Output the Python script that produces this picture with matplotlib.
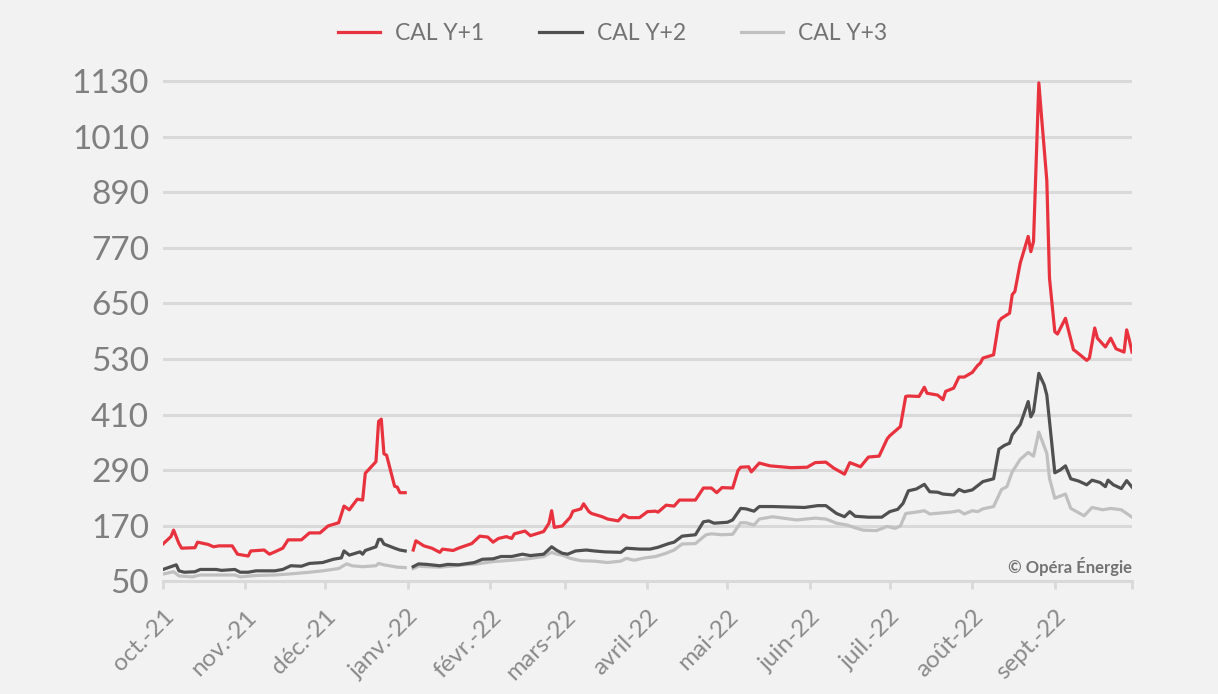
import matplotlib.pyplot as plt
import pandas as pd

plt.rcParams['font.family'] = ['Lato', 'DejaVu Sans']

# CAL Y+1 (CAL-22 until end of Dec, then CAL-23)
red1_dates = ['2021-10-01','2021-10-04','2021-10-05','2021-10-07','2021-10-08','2021-10-13','2021-10-14',
              '2021-10-18','2021-10-20','2021-10-22','2021-10-27','2021-10-29','2021-11-02','2021-11-03',
              '2021-11-08','2021-11-10','2021-11-12','2021-11-15','2021-11-17','2021-11-22','2021-11-25',
              '2021-11-29','2021-12-02','2021-12-06','2021-12-08','2021-12-10','2021-12-13','2021-12-15',
              '2021-12-16','2021-12-20','2021-12-21','2021-12-22','2021-12-23','2021-12-24','2021-12-27',
              '2021-12-28','2021-12-29','2021-12-31']
red1_vals = [130,146,160,131,121,122,134,129,124,126,126,108,104,115,117,108,113,121,139,139,154,154,
             169,176,212,204,227,225,283,308,395,400,325,322,255,253,241,241]

red2_dates = ['2022-01-03','2022-01-04','2022-01-07','2022-01-10','2022-01-13','2022-01-14','2022-01-18',
              '2022-01-20','2022-01-25','2022-01-28','2022-01-31','2022-02-02','2022-02-04','2022-02-07',
              '2022-02-09','2022-02-10','2022-02-14','2022-02-16','2022-02-21','2022-02-23','2022-02-24',
              '2022-02-25','2022-02-28','2022-03-03','2022-03-04','2022-03-07','2022-03-08','2022-03-10',
              '2022-03-11','2022-03-15','2022-03-17','2022-03-21','2022-03-23','2022-03-25','2022-03-29',
              '2022-04-01','2022-04-04','2022-04-05','2022-04-08','2022-04-11','2022-04-13','2022-04-19',
              '2022-04-22','2022-04-25','2022-04-27','2022-04-29','2022-05-03','2022-05-05','2022-05-06',
              '2022-05-09','2022-05-10','2022-05-13','2022-05-17','2022-05-25','2022-05-31','2022-06-03',
              '2022-06-07','2022-06-10','2022-06-14','2022-06-16','2022-06-20','2022-06-23','2022-06-27',
              '2022-06-30','2022-07-01','2022-07-05','2022-07-07','2022-07-08','2022-07-12','2022-07-14',
              '2022-07-15','2022-07-19','2022-07-21','2022-07-22','2022-07-25','2022-07-27','2022-07-29',
              '2022-08-01','2022-08-03','2022-08-04','2022-08-05','2022-08-09','2022-08-11','2022-08-12',
              '2022-08-15','2022-08-16','2022-08-17','2022-08-19','2022-08-22','2022-08-23','2022-08-24',
              '2022-08-26','2022-08-27','2022-08-29','2022-08-30','2022-09-01','2022-09-02','2022-09-05',
              '2022-09-08','2022-09-09','2022-09-13','2022-09-14','2022-09-16','2022-09-17','2022-09-20',
              '2022-09-22','2022-09-24','2022-09-27','2022-09-28','2022-09-29','2022-09-30']
red2_vals = [117,137,126,121,112,119,116,121,131,147,145,134,142,146,142,152,158,148,157,175,202,
             166,169,188,201,206,217,200,196,189,184,180,193,187,187,200,201,199,214,212,225,225,
             251,251,241,252,251,289,296,297,286,305,299,295,296,306,307,294,281,306,297,318,320,
             357,364,384,449,450,449,469,456,452,442,460,467,491,491,501,516,521,532,539,611,618,
             629,669,676,737,795,762,784,1127,1055,916,705,589,584,618,550,546,527,532,597,575,556,
             575,552,545,593,571,545]

# CAL Y+2
dark1_dates = ['2021-10-01','2021-10-05','2021-10-06','2021-10-07','2021-10-09','2021-10-13','2021-10-15',
               '2021-10-21','2021-10-23','2021-10-28','2021-10-30','2021-11-02','2021-11-05','2021-11-10',
               '2021-11-12','2021-11-15','2021-11-18','2021-11-22','2021-11-25','2021-11-30','2021-12-04',
               '2021-12-07','2021-12-08','2021-12-10','2021-12-14','2021-12-15','2021-12-16','2021-12-20',
               '2021-12-21','2021-12-22','2021-12-23','2021-12-27','2021-12-29','2021-12-31']
dark1_vals = [75,83,85,72,69,70,75,75,73,75,69,69,72,72,72,75,83,82,88,90,97,100,115,106,113,108,116,
              124,140,140,130,121,117,115]

dark2_dates = ['2022-01-03','2022-01-05','2022-01-08','2022-01-13','2022-01-16','2022-01-20','2022-01-26',
               '2022-01-29','2022-02-02','2022-02-05','2022-02-09','2022-02-13','2022-02-16','2022-02-21',
               '2022-02-24','2022-02-26','2022-02-28','2022-03-02','2022-03-05','2022-03-09','2022-03-12',
               '2022-03-16','2022-03-22','2022-03-24','2022-03-29','2022-04-02','2022-04-05','2022-04-09',
               '2022-04-11','2022-04-14','2022-04-19','2022-04-22','2022-04-24','2022-04-26','2022-05-01',
               '2022-05-03','2022-05-06','2022-05-08','2022-05-11','2022-05-13','2022-05-18','2022-05-30',
               '2022-06-04','2022-06-07','2022-06-11','2022-06-14','2022-06-16','2022-06-18','2022-06-23',
               '2022-06-28','2022-07-01','2022-07-04','2022-07-06','2022-07-08','2022-07-11','2022-07-14',
               '2022-07-16','2022-07-19','2022-07-21','2022-07-25','2022-07-27','2022-07-29','2022-08-01',
               '2022-08-05','2022-08-09','2022-08-11','2022-08-13','2022-08-15','2022-08-16','2022-08-19',
               '2022-08-22','2022-08-23','2022-08-24','2022-08-26','2022-08-28','2022-08-29','2022-09-01',
               '2022-09-03','2022-09-05','2022-09-07','2022-09-10','2022-09-13','2022-09-15','2022-09-18',
               '2022-09-20','2022-09-21','2022-09-23','2022-09-26','2022-09-28','2022-09-30']
dark2_vals = [81,87,86,83,86,85,90,97,98,103,103,108,105,108,124,116,110,108,115,117,115,113,112,121,
              119,119,123,131,134,147,150,178,180,175,177,182,207,206,201,211,211,209,213,213,196,189,
              200,190,188,188,200,205,218,245,249,259,243,242,238,236,248,243,247,265,271,335,343,348,
              366,388,438,405,416,499,474,452,284,290,299,271,266,258,268,263,254,268,258,250,267,253]

# CAL Y+3
light1_dates = ['2021-10-01','2021-10-05','2021-10-07','2021-10-12','2021-10-15','2021-10-22','2021-10-28',
                '2021-10-30','2021-11-05','2021-11-12','2021-11-17','2021-11-25','2021-11-30','2021-12-06',
                '2021-12-09','2021-12-11','2021-12-15','2021-12-20','2021-12-21','2021-12-23','2021-12-28',
                '2021-12-31']
light1_vals = [65,70,61,59,63,63,63,59,62,63,65,69,72,77,87,83,81,83,88,85,80,79]

light2_dates = ['2022-01-03','2022-01-05','2022-01-08','2022-01-13','2022-01-17','2022-01-22','2022-01-27',
                '2022-02-02','2022-02-09','2022-02-15','2022-02-21','2022-02-24','2022-02-26','2022-02-28',
                '2022-03-03','2022-03-07','2022-03-12','2022-03-17','2022-03-22','2022-03-24','2022-03-27',
                '2022-03-31','2022-04-04','2022-04-08','2022-04-11','2022-04-14','2022-04-19','2022-04-23',
                '2022-04-25','2022-04-29','2022-05-03','2022-05-06','2022-05-08','2022-05-11','2022-05-13',
                '2022-05-18','2022-05-27','2022-06-03','2022-06-07','2022-06-11','2022-06-15','2022-06-18',
                '2022-06-21','2022-06-26','2022-06-30','2022-07-03','2022-07-05','2022-07-07','2022-07-11',
                '2022-07-14','2022-07-16','2022-07-24','2022-07-27','2022-07-29','2022-08-01','2022-08-03',
                '2022-08-05','2022-08-09','2022-08-12','2022-08-14','2022-08-16','2022-08-19','2022-08-22',
                '2022-08-24','2022-08-26','2022-08-29','2022-08-30','2022-09-01','2022-09-05','2022-09-07',
                '2022-09-12','2022-09-15','2022-09-19','2022-09-22','2022-09-26','2022-09-30']
light2_vals = [77,82,81,80,82,85,87,92,95,98,103,112,108,106,99,94,93,90,93,99,95,100,103,110,117,130,
               131,150,152,150,151,176,176,171,184,189,182,186,184,175,171,165,160,159,168,164,169,196,
               199,202,195,199,202,195,202,200,206,211,248,254,286,313,328,320,372,326,272,229,238,207,
               191,209,204,207,204,188]

month_labels = ['oct.-21', 'nov.-21', 'déc.-21', 'janv.-22', 'févr.-22', 'mars-22', 'avril-22',
                'mai-22', 'juin-22', 'juil.-22', 'août-22', 'sept.-22', '']
y_ticks = list(range(50, 1131, 120))

RED = '#e8333f'
DARK = '#505050'
LIGHT = '#c0c0c0'
GRID = '#d9d9d9'
TXT = '#7f7f7f'

fig = plt.figure(figsize=(12.18, 6.94), dpi=100, facecolor='#f2f2f2')
ax = fig.add_axes([0.1338, 0.1628, 0.7956, 0.7218])
ax.set_facecolor('#f2f2f2')

series = [
    ('CAL Y+1', RED, [(red1_dates, red1_vals), (red2_dates, red2_vals)]),
    ('CAL Y+2', DARK, [(dark1_dates, dark1_vals), (dark2_dates, dark2_vals)]),
    ('CAL Y+3', LIGHT, [(light1_dates, light1_vals), (light2_dates, light2_vals)]),
]
handles = []
for name, col, segs in reversed(series):
    for i, (d, v) in enumerate(segs):
        ln, = ax.plot(pd.to_datetime(d), v, color=col, lw=2.3, solid_joinstyle='round',
                      label=name if i == 0 else None)
    handles.append(ln)
handles = handles[::-1]

ax.set_ylim(50, 1133)
ax.set_yticks(y_ticks)
ax.grid(axis='y', color=GRID, lw=2.2)
ax.set_axisbelow(True)

month_ticks = pd.date_range('2021-10-01', '2022-10-01', freq='MS')
ax.set_xlim(month_ticks[0], pd.Timestamp('2022-09-30'))
ax.set_xticks(list(month_ticks[:-1]) + [pd.Timestamp('2022-09-30')])
ax.set_xticklabels(month_labels, rotation=45, ha='right', rotation_mode='anchor')

for s in ['left', 'right', 'top']:
    ax.spines[s].set_visible(False)
ax.spines['bottom'].set_color(GRID)
ax.spines['bottom'].set_linewidth(2.2)

ax.tick_params(axis='y', length=0, labelsize=24, labelcolor=TXT, pad=10)
ax.tick_params(axis='x', length=6, width=2, color=GRID, labelsize=17.5, labelcolor='#8a8a8a', pad=12)

ax.text(1.0, 0.028, '© Opéra Énergie', transform=ax.transAxes, ha='right', va='center',
        fontsize=12, fontweight='bold', color='#737373')

fig.legend(handles, ['CAL Y+1', 'CAL Y+2', 'CAL Y+3'], loc='center', bbox_to_anchor=(0.503, 0.952),
           ncol=3, frameon=False, fontsize=16.5, handlelength=1.85, columnspacing=2.4,
           handletextpad=0.65, labelcolor='#737373')

fig.savefig('out.png', dpi=100, facecolor=fig.get_facecolor())
